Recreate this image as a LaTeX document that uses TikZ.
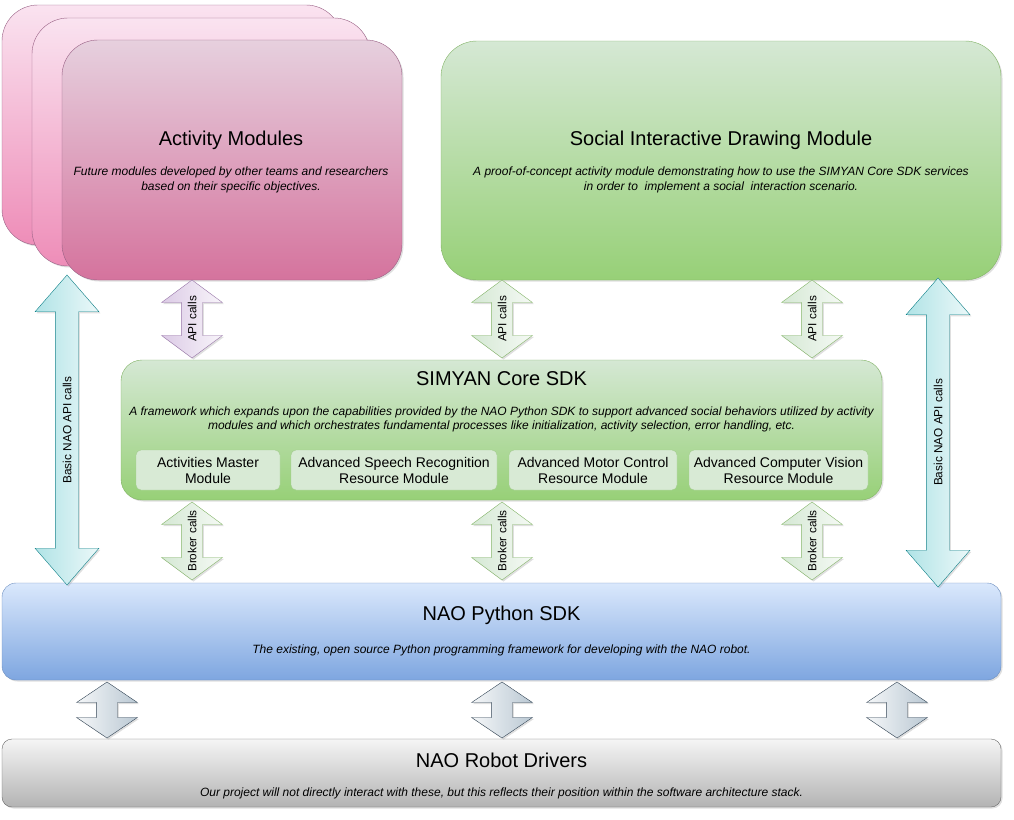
\documentclass[tikz,border=0pt]{standalone}
\usepackage{fontspec}
\setmainfont{Liberation Sans}
\usetikzlibrary{shapes.arrows, shadows}

\definecolor{pinkline}{HTML}{996185}
\definecolor{pinktop}{HTML}{E6D0DE}
\definecolor{pinkbot}{HTML}{D5739D}
\definecolor{pinkbacktop}{HTML}{FAE3F0}
\definecolor{pinkbackbot}{HTML}{EE8DB8}
\definecolor{greenline}{HTML}{82B366}
\definecolor{greentop}{HTML}{D5E8D4}
\definecolor{greenbot}{HTML}{97D077}
\definecolor{modfill}{HTML}{D8EAD5}
\definecolor{modline}{HTML}{A3CC8F}
\definecolor{blueline}{HTML}{6C8EBF}
\definecolor{bluetop}{HTML}{DAE8FC}
\definecolor{bluebot}{HTML}{7EA6E0}
\definecolor{greyline}{HTML}{666666}
\definecolor{greytop}{HTML}{F5F5F5}
\definecolor{greybot}{HTML}{B3B3B3}
\definecolor{cyanline}{HTML}{0E8088}
\definecolor{cyanfill}{HTML}{B0E3E6}
\definecolor{purpline}{HTML}{9673A6}
\definecolor{purpfill}{HTML}{DCCBE6}
\definecolor{slateline}{HTML}{314354}
\definecolor{slatefill}{HTML}{BAC8D3}

\begin{document}
\begin{tikzpicture}[x=1pt, y=-1pt]
	\tikzstyle{shade}=[drop shadow={opacity=0.25, shadow xshift=1.5pt, shadow yshift=-1.5pt}]
	\tikzstyle{panel}=[draw, shade, inner sep=0pt]
	\tikzstyle{activity}=[panel, draw=pinkline, rounded corners=36pt, minimum width=340pt, minimum height=240pt]
	\tikzstyle{submodule}=[draw=modline, fill=modfill, rounded corners=5pt, minimum height=40pt, inner sep=0pt, align=center, font=\fontsize{14}{16}\selectfont]
	\tikzstyle{title}=[font=\fontsize{20}{24}\selectfont]
	\tikzstyle{desc}=[align=center, font=\itshape\fontsize{12}{15}\selectfont]
	\tikzstyle{callarrow}=[double arrow, draw, shade, rotate=90, inner xsep=0pt, inner ysep=6pt, text height=8.5pt, text depth=0pt, double arrow head extend=20pt, double arrow tip angle=107, minimum height=78pt, font=\fontsize{11.8}{13}\selectfont]

	\useasboundingbox (0,0) rectangle (1014,819);

	% activity modules (stacked)
	\node (act3) [activity, top color=pinkbacktop, bottom color=pinkbackbot] at (172,125) {};
	\node (act2) [activity, top color=pinkbacktop, bottom color=pinkbackbot, minimum width=338pt, minimum height=248pt] at (201,142) {};
	\node (act1) [activity, top color=pinktop, bottom color=pinkbot] at (232,160) {};
	\node [title] at (231,140) {Activity Modules};
	\node [desc] at (231,180) {Future modules developed by other teams and researchers\\based on their specific objectives.};

	% drawing module
	\node (draw) [panel, draw=greenline, top color=greentop, bottom color=greenbot, rounded corners=36pt, minimum width=560pt, minimum height=239pt] at (721,160.5) {};
	\node [title] at (721,140) {Social Interactive Drawing Module};
	\node [desc] at (721,180) {A proof-of-concept activity module demonstrating how to use the SIMYAN Core SDK services\\in order to\ \ implement a social\ \ interaction scenario.};

	% core sdk
	\node (core) [panel, draw=greenline, top color=greentop, bottom color=greenbot, rounded corners=21pt, minimum width=761pt, minimum height=140pt] at (501.5,430) {};
	\node [title] at (501.5,379) {SIMYAN Core SDK};
	\node [desc, font=\itshape\fontsize{12}{14}\selectfont] at (501.5,419.5) {A framework which expands upon the capabilities provided by the NAO Python SDK to support advanced social behaviors utilized by activity\\modules and which orchestrates fundamental processes like initialization, activity selection, error handling, etc.};
	\node (master) [submodule, minimum width=144pt] at (208,470) {Activities Master\\Module};
	\node (speech) [submodule, minimum width=206pt] at (394,470) {Advanced Speech Recognition\\Resource Module};
	\node (motor) [submodule, minimum width=168pt] at (593,470) {Advanced Motor Control\\Resource Module};
	\node (vision) [submodule, minimum width=179pt] at (778.5,470) {Advanced Computer Vision\\Resource Module};

	% nao python sdk
	\node (pysdk) [panel, draw=blueline, top color=bluetop, bottom color=bluebot, rounded corners=14pt, minimum width=999pt, minimum height=97pt] at (501.5,631.5) {};
	\node [title] at (501.5,615) {NAO Python SDK};
	\node [desc] at (501.5,650) {The existing, open source Python programming framework for developing with the NAO robot.};

	% robot drivers
	\node (drivers) [panel, draw=greyline, top color=greytop, bottom color=greybot, rounded corners=10pt, minimum width=999pt, minimum height=68pt] at (501.5,773) {};
	\node [title] at (501.5,760) {NAO Robot Drivers};
	\node [desc] at (501.5,793) {Our project will not directly interact with these, but this reflects their position within the software architecture stack.};

	% api and broker calls
	\node (api1) [callarrow, draw=purpline, left color=purpfill, right color=purpfill!20] at (192,319) {API calls};
	\node (api2) [callarrow, draw=greenline, left color=greentop, right color=greentop!25] at (502,319) {API calls};
	\node (api3) [callarrow, draw=greenline, left color=greentop, right color=greentop!25] at (812,319) {API calls};
	\node (broker1) [callarrow, draw=greenline, left color=greentop, right color=greentop!25] at (192,541) {Broker calls};
	\node (broker2) [callarrow, draw=greenline, left color=greentop, right color=greentop!25] at (502,541) {Broker calls};
	\node (broker3) [callarrow, draw=greenline, left color=greentop, right color=greentop!25] at (812,541) {Broker calls};

	% basic nao api calls
	\node (basic1) [callarrow, draw=cyanline, left color=cyanfill, right color=cyanfill!25, inner ysep=7pt, double arrow head extend=20.5pt, double arrow tip angle=82, minimum height=310pt] at (67,430) {Basic NAO API calls};
	\node (basic2) [callarrow, draw=cyanline, left color=cyanfill, right color=cyanfill!25, inner ysep=7pt, double arrow head extend=20.5pt, double arrow tip angle=82, minimum height=309pt] at (938,432.5) {Basic NAO API calls};

	% driver links
	\node (link1) [callarrow, draw=slateline, left color=slatefill!15, right color=slatefill, double arrow tip angle=112, minimum height=56pt] at (107,710) {};
	\node (link2) [callarrow, draw=slateline, left color=slatefill!15, right color=slatefill, double arrow tip angle=112, minimum height=56pt] at (502,710) {};
	\node (link3) [callarrow, draw=slateline, left color=slatefill!15, right color=slatefill, double arrow tip angle=112, minimum height=56pt] at (897,710) {};
\end{tikzpicture}
\end{document}
